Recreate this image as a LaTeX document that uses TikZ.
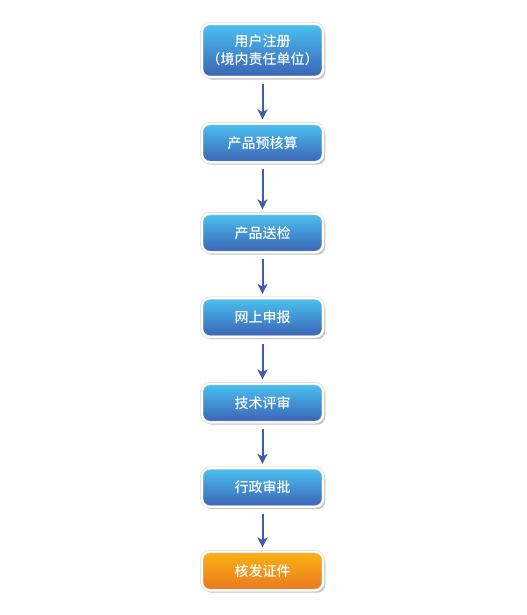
\documentclass[tikz,border=0pt]{standalone}
\usepackage{fontspec}
\setmainfont{Noto Sans CJK SC}[BoldFont={Noto Sans CJK SC Medium}]
\usetikzlibrary{arrows.meta,shadows}

\tikzset{
  stepbox/.style={rounded corners=6pt, draw=black!18, double=white,
    double distance=1.5pt, line width=0.4pt,
    minimum width=91pt, minimum height=29pt, align=center,
    text=white, font=\fontsize{10.5pt}{13.5pt}\selectfont\bfseries,
    top color=blueTop, bottom color=blueBot,
    drop shadow={shadow xshift=1.6pt, shadow yshift=-1.8pt, opacity=.4, fill=black!60}},
  endbox/.style={stepbox, top color=orangeTop, bottom color=orangeBot},
}
\definecolor{blueTop}{HTML}{4AC2F0}
\definecolor{blueBot}{HTML}{3B62B5}
\definecolor{orangeTop}{HTML}{FBB315}
\definecolor{orangeBot}{HTML}{E9771F}
\definecolor{arrowblue}{HTML}{3F5DAE}

\begin{document}
\begin{tikzpicture}[x=0.75pt,y=-0.75pt,
   -{Stealth[length=7.5pt,width=7.5pt,inset=2pt]},
   line width=1.5pt, draw=arrowblue]
   \useasboundingbox (0,0) rectangle (526,615);

   \node[stepbox, minimum height=40pt] (a0) at (262.5,50.5) {用户注册\\（境内责任单位）};
   \node[stepbox] (a1) at (262.5,143)   {产品预核算};
   \node[stepbox] (a2) at (262.5,233)   {产品送检};
   \node[stepbox] (a3) at (262.5,317.5) {网上申报};
   \node[stepbox] (a4) at (262.5,403)   {技术评审};
   \node[stepbox] (a5) at (262.5,487.5) {行政审批};
   \node[endbox]  (a6) at (262.5,571)   {核发证件};

   \path (a0) edge[shorten <=5pt, shorten >=3pt] (a1);
   \path (a1) edge[shorten <=5pt, shorten >=3pt] (a2);
   \path (a2) edge[shorten <=5pt, shorten >=3pt] (a3);
   \path (a3) edge[shorten <=5pt, shorten >=3pt] (a4);
   \path (a4) edge[shorten <=5pt, shorten >=3pt] (a5);
   \path (a5) edge[shorten <=5pt, shorten >=3pt] (a6);

\end{tikzpicture}
\end{document}
